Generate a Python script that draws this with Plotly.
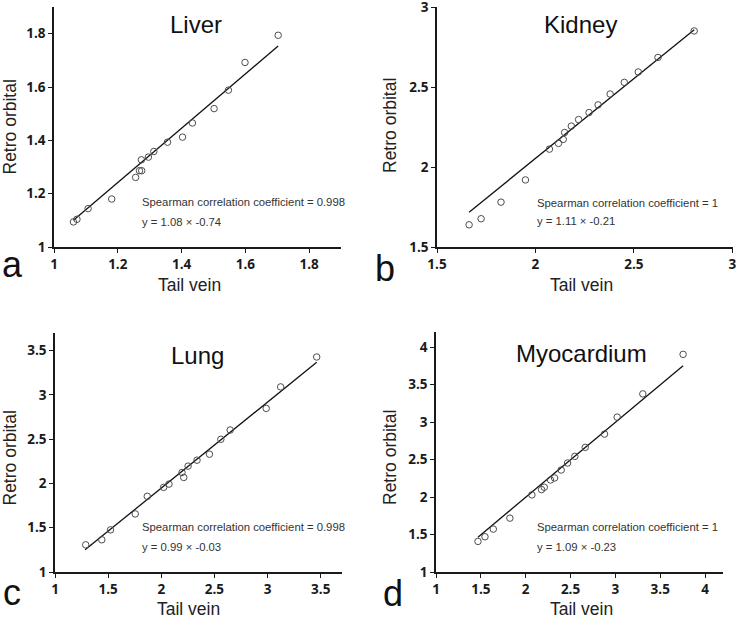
import plotly.graph_objects as go

W, H = 736, 620

# ---------------- data ----------------
liver_tail = [1.061, 1.072, 1.107, 1.181, 1.256, 1.268, 1.275, 1.274, 1.296, 1.313,
              1.356, 1.403, 1.434, 1.502, 1.547, 1.599, 1.703]
liver_retro = [1.094, 1.104, 1.144, 1.180, 1.261, 1.286, 1.286, 1.327, 1.337, 1.358,
               1.393, 1.412, 1.465, 1.519, 1.588, 1.692, 1.794]
liver_fit_x = [1.061, 1.703]
liver_fit_y = [1.100, 1.754]

kidney_tail = [1.663, 1.724, 1.825, 1.949, 2.071, 2.117, 2.141, 2.148, 2.182, 2.219,
               2.272, 2.318, 2.379, 2.451, 2.522, 2.622, 2.806]
kidney_retro = [1.639, 1.677, 1.781, 1.920, 2.113, 2.149, 2.174, 2.217, 2.257, 2.298,
                2.342, 2.390, 2.458, 2.531, 2.596, 2.687, 2.853]
kidney_fit_x = [1.663, 2.806]
kidney_fit_y = [1.718, 2.860]

lung_tail = [1.289, 1.440, 1.522, 1.755, 1.868, 2.022, 2.072, 2.195, 2.211, 2.252,
             2.336, 2.453, 2.560, 2.648, 2.987, 3.123, 3.462]
lung_retro = [1.307, 1.364, 1.476, 1.656, 1.855, 1.956, 1.993, 2.124, 2.068, 2.196,
              2.263, 2.331, 2.499, 2.604, 2.848, 3.091, 3.429]
lung_fit_x = [1.283, 3.462]
lung_fit_y = [1.251, 3.369]

myo_tail = [1.468, 1.546, 1.639, 1.824, 2.069, 2.177, 2.207, 2.277, 2.322, 2.396,
            2.467, 2.548, 2.664, 2.879, 3.020, 3.306, 3.755]
myo_retro = [1.408, 1.470, 1.572, 1.718, 2.028, 2.099, 2.130, 2.227, 2.254, 2.360,
             2.453, 2.542, 2.662, 2.839, 3.065, 3.375, 3.902]
myo_fit_x = [1.468, 3.755]
myo_fit_y = [1.465, 3.751]

panel_titles = ["Liver", "Kidney", "Lung", "Myocardium"]
panel_letters = ["a", "b", "c", "d"]
spearman_texts = ["Spearman correlation coefficient = 0.998",
                  "Spearman correlation coefficient = 1",
                  "Spearman correlation coefficient = 0.998",
                  "Spearman correlation coefficient = 1"]
equation_texts = ["y = 1.08 × -0.74", "y = 1.11 × -0.21",
                  "y = 0.99 × -0.03", "y = 1.09 × -0.23"]
x_title = "Tail vein"
y_title = "Retro orbital"

x_ranges = [[1, 1.9], [1.5, 3.003], [1, 3.7], [1, 4.2]]
y_ranges = [[1, 1.9], [1.5, 3.003], [1, 3.7], [1, 4.2]]
dticks = [0.2, 0.5, 0.5, 0.5]
tick0s = [1, 1.5, 1, 1]

# ---------------- layout geometry (pixels) ----------------
# (left, right, top, bottom) of each plot area
boxes = [(54, 341, 7, 247), (437, 733, 7, 247), (55, 342, 333, 572), (436, 723, 332, 572)]

def fx(px):
    return px / W

def fy(py):
    return 1 - py / H

fig = go.Figure()

series = [(liver_tail, liver_retro, liver_fit_x, liver_fit_y),
          (kidney_tail, kidney_retro, kidney_fit_x, kidney_fit_y),
          (lung_tail, lung_retro, lung_fit_x, lung_fit_y),
          (myo_tail, myo_retro, myo_fit_x, myo_fit_y)]

for i, (tx, ry, fxv, fyv) in enumerate(series):
    n = "" if i == 0 else str(i + 1)
    fig.add_trace(go.Scatter(x=fxv, y=fyv, mode="lines", xaxis="x" + n, yaxis="y" + n,
                             line=dict(color="#111111", width=1.3), showlegend=False,
                             hoverinfo="skip"))
    fig.add_trace(go.Scatter(x=tx, y=ry, mode="markers", xaxis="x" + n, yaxis="y" + n,
                             marker=dict(symbol="circle-open", size=6.5, color="#4d4d4d",
                                         line=dict(width=1)),
                             showlegend=False))

axis_common = dict(showgrid=False, zeroline=False, showline=True, linecolor="#1a1a1a",
                   linewidth=1.6, ticks="outside", ticklen=4, tickwidth=1.4,
                   tickcolor="#1a1a1a", automargin=False, ticklabeloverflow="allow",
                   tickfont=dict(family="Open Sans", size=13.5, color="#1a1a1a", weight="bold"))

layout = dict(width=W, height=H, margin=dict(l=0, r=0, t=0, b=0),
              paper_bgcolor="white", plot_bgcolor="white", showlegend=False)

for i, (l, r, t, b) in enumerate(boxes):
    n = "" if i == 0 else str(i + 1)
    layout["xaxis" + n] = dict(axis_common, domain=[fx(l), fx(r)], range=x_ranges[i],
                               tick0=tick0s[i], dtick=dticks[i], anchor="y" + n)
    layout["yaxis" + n] = dict(axis_common, domain=[fy(b), fy(t)], range=y_ranges[i],
                               tick0=tick0s[i], dtick=dticks[i], anchor="x" + n)

fig.update_layout(**layout)

txt = "Liberation Sans"
ann = []
title_pos = [(196, 25), (580, 25), (197, 355), (581, 353)]
letter_pos = [(12, 264), (385, 268), (12, 592), (393, 593)]
spear_pos = [(140, 202), (535, 203), (140, 527), (535, 527)]
eq_pos = [(140, 222), (535, 221), (140, 547), (535, 547)]
xt_pos = [(189, 285), (581, 285), (188, 609), (581, 609)]
yt_pos = [(9.5, 127), (390, 126), (9.5, 458), (390, 458)]

for i in range(4):
    ann.append(dict(text=panel_titles[i], x=fx(title_pos[i][0]), y=fy(title_pos[i][1]),
                    xref="paper", yref="paper", showarrow=False, xanchor="center",
                    yanchor="middle", font=dict(family=txt, size=24, color="#111111")))
    ann.append(dict(text=panel_letters[i], x=fx(letter_pos[i][0]), y=fy(letter_pos[i][1]),
                    xref="paper", yref="paper", showarrow=False, xanchor="center",
                    yanchor="middle", font=dict(family=txt, size=36, color="#111111")))
    ann.append(dict(text=spearman_texts[i], x=fx(spear_pos[i][0]), y=fy(spear_pos[i][1]),
                    xref="paper", yref="paper", showarrow=False, xanchor="left",
                    yanchor="middle", font=dict(family=txt, size=11.3, color="#333333")))
    ann.append(dict(text=equation_texts[i], x=fx(eq_pos[i][0]), y=fy(eq_pos[i][1]),
                    xref="paper", yref="paper", showarrow=False, xanchor="left",
                    yanchor="middle", font=dict(family=txt, size=11.3, color="#333333")))
    ann.append(dict(text=x_title, x=fx(xt_pos[i][0]), y=fy(xt_pos[i][1]),
                    xref="paper", yref="paper", showarrow=False, xanchor="center",
                    yanchor="middle", font=dict(family=txt, size=17.5, color="#222222")))
    ann.append(dict(text=y_title, x=fx(yt_pos[i][0]), y=fy(yt_pos[i][1]),
                    xref="paper", yref="paper", showarrow=False, xanchor="center",
                    yanchor="middle", textangle=-90,
                    font=dict(family=txt, size=17.5, color="#222222")))

fig.update_layout(annotations=ann)

# remove the browser's default 8px page margin so the figure fills the window
fig.write_html("out.html", config={"displayModeBar": False},
               post_script="document.body.style.margin='0';document.body.style.overflow='hidden';")
